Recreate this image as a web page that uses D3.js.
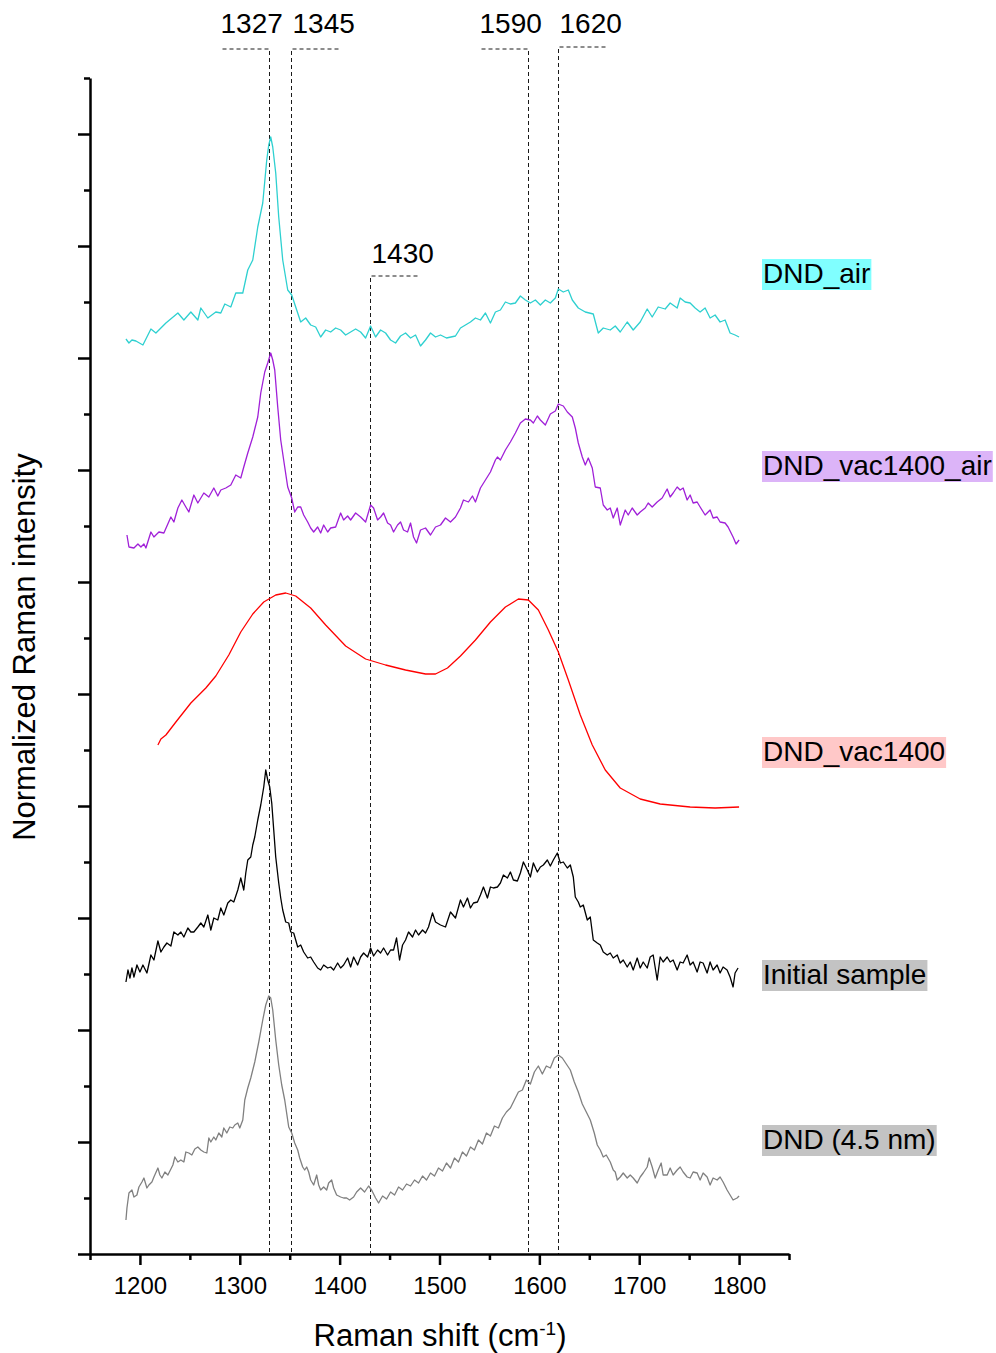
<!DOCTYPE html>
<html>
<head>
<meta charset="utf-8">
<script src="https://cdn.jsdelivr.net/npm/d3@7"></script>
<style>
	body { margin: 0; background: #fff; }
	svg { display: block; font-family: 'Liberation Sans', Arial, sans-serif; }
	.axis path, .axis line { stroke: #000; stroke-width: 2.5px; }
	.axis text { font-size: 24px; fill: #000; font-family: 'Liberation Sans', Arial, sans-serif; }
	.spectrum { fill: none; stroke-width: 1.3px; stroke-linejoin: round; }
	.peak { fill: none; stroke: #1a1a1a; stroke-width: 1px; stroke-dasharray: 4,3; }
</style>
</head>
<body>
<div class="chart"></div>
<script>
// tick values and peak markers
const xTicks = [1200, 1300, 1400, 1500, 1600, 1700, 1800]
const xMinorTicks = [1150, 1250, 1350, 1450, 1550, 1650, 1750, 1850]
const peakPos = [1329.5, 1351.5, 1430.5, 1589, 1619]
const peakLabels = ['1327', '1345', '1430', '1590', '1620']

const seriesNames = ['DND_air', 'DND_vac1400_air', 'DND_vac1400', 'Initial sample', 'DND (4.5 nm)']
const seriesColors = ['#2ed0d0', '#a020d8', '#ff0000', '#000000', '#808080']
const labelFills = ['#80ffff', '#dcb4f8', '#ffc8c8', '#c3c3c3', '#c3c3c3']

// spectra, [Raman shift, intensity (a.u., offset included)]
const dndAir = [[1186,915],[1189,911],[1192,914],[1196,913],[1203,909],[1211,925],[1216,921],[1226,931],[1238,941],[1244,934],[1251,942],[1258,934],[1261,946],[1268,936],[1276,942],[1281,941],[1285,950],[1291,947],[1296,961],[1303,961],[1308,984],[1313,994],[1318,1027],[1323,1051],[1327,1094],[1329,1109],[1331,1117],[1333,1107],[1336,1081],[1339,1037],[1343,994],[1348,964],[1352,959],[1357,944],[1361,932],[1366,936],[1371,929],[1376,927],[1381,917],[1386,924],[1391,922],[1396,926],[1401,924],[1406,919],[1411,922],[1416,925],[1421,922],[1426,916],[1431,928],[1436,917],[1441,924],[1446,921],[1451,914],[1456,911],[1461,918],[1466,921],[1471,916],[1476,919],[1481,908],[1486,914],[1491,921],[1496,917],[1501,919],[1507,916],[1516,918],[1521,926],[1531,932],[1536,936],[1541,934],[1546,941],[1551,931],[1556,942],[1561,944],[1566,952],[1571,950],[1576,951],[1581,958],[1586,954],[1591,951],[1596,954],[1601,949],[1606,954],[1611,951],[1616,956],[1619,965],[1624,962],[1629,964],[1633,954],[1639,946],[1646,942],[1654,940],[1659,921],[1664,926],[1671,924],[1676,928],[1681,922],[1688,932],[1694,924],[1701,932],[1708,945],[1713,937],[1719,947],[1726,945],[1731,951],[1738,946],[1741,956],[1746,952],[1751,951],[1756,946],[1761,942],[1766,946],[1771,936],[1776,939],[1781,932],[1786,934],[1791,921],[1796,919],[1800,917]]

const dndVacAir = [[1187,719],[1189,707],[1194,706],[1198,710],[1201,707],[1204,710],[1206,706],[1211,722],[1214,717],[1219,722],[1224,721],[1231,737],[1234,732],[1238,746],[1242,754],[1246,747],[1249,742],[1254,759],[1258,751],[1264,761],[1269,757],[1274,766],[1278,758],[1281,764],[1286,766],[1291,769],[1296,779],[1301,776],[1304,787],[1308,801],[1313,817],[1318,837],[1321,861],[1325,882],[1328,891],[1331,901],[1333,894],[1335,884],[1338,847],[1341,814],[1345,787],[1348,767],[1352,756],[1355,742],[1358,747],[1361,747],[1364,739],[1368,732],[1371,726],[1374,722],[1378,727],[1381,721],[1384,729],[1388,722],[1391,726],[1396,727],[1401,741],[1404,734],[1408,738],[1411,734],[1416,741],[1421,737],[1426,732],[1431,749],[1434,746],[1438,734],[1441,737],[1444,741],[1448,731],[1451,729],[1454,722],[1458,729],[1461,732],[1464,724],[1468,722],[1471,731],[1474,717],[1477,711],[1481,724],[1486,726],[1491,719],[1496,727],[1501,729],[1506,736],[1511,732],[1516,737],[1521,746],[1524,754],[1529,752],[1533,758],[1536,752],[1541,766],[1546,774],[1551,782],[1556,794],[1558,797],[1561,794],[1566,804],[1571,812],[1576,821],[1581,831],[1586,835],[1591,834],[1594,831],[1598,838],[1601,834],[1606,829],[1611,840],[1616,843],[1619,850],[1624,848],[1628,842],[1633,837],[1636,826],[1639,811],[1643,797],[1646,789],[1649,796],[1653,786],[1656,767],[1661,766],[1664,749],[1668,744],[1671,746],[1674,736],[1678,746],[1681,729],[1686,744],[1689,739],[1693,746],[1698,739],[1701,742],[1706,746],[1709,751],[1713,747],[1718,752],[1723,756],[1728,765],[1731,757],[1734,761],[1738,767],[1741,764],[1744,766],[1748,754],[1751,759],[1754,751],[1758,752],[1761,747],[1766,739],[1771,744],[1774,736],[1778,737],[1781,732],[1786,731],[1789,727],[1794,717],[1797,710],[1800,714]]

const dndVac = [[1218,509],[1221,515],[1226,519],[1236,532],[1251,551],[1266,566],[1276,578],[1289,599],[1301,622],[1313,640],[1324,652],[1336,659],[1346,661],[1356,658],[1371,646],[1386,629],[1406,608],[1426,595],[1446,589],[1466,584],[1486,580],[1496,580],[1508,586],[1521,598],[1536,614],[1551,632],[1566,647],[1579,655],[1589,654],[1599,644],[1609,624],[1619,602],[1629,574],[1641,539],[1653,509],[1666,484],[1681,466],[1701,455],[1721,450],[1751,447],[1776,446],[1800,447]]

const initialSample = [[1186,272],[1188,284],[1190,276],[1192,286],[1194,277],[1197,289],[1200,282],[1203,289],[1207,281],[1211,299],[1214,294],[1218,313],[1221,302],[1224,307],[1227,311],[1231,308],[1234,322],[1238,319],[1241,322],[1244,317],[1248,326],[1251,322],[1254,322],[1258,327],[1261,331],[1264,327],[1268,339],[1271,324],[1274,336],[1278,334],[1281,346],[1284,339],[1288,351],[1291,354],[1294,352],[1298,364],[1301,376],[1304,364],[1306,381],[1308,394],[1311,397],[1313,409],[1315,417],[1318,434],[1321,449],[1324,467],[1326,484],[1328,474],[1330,467],[1332,451],[1334,424],[1336,397],[1339,371],[1341,356],[1343,344],[1346,332],[1349,331],[1351,322],[1354,321],[1358,307],[1361,309],[1364,302],[1368,296],[1371,297],[1374,292],[1378,286],[1381,284],[1384,289],[1388,286],[1391,287],[1394,284],[1398,291],[1401,286],[1404,289],[1408,296],[1411,287],[1414,297],[1418,289],[1421,297],[1424,301],[1428,297],[1431,306],[1434,298],[1438,304],[1441,301],[1444,306],[1448,299],[1451,304],[1454,304],[1457,316],[1460,294],[1463,309],[1466,314],[1469,322],[1473,317],[1476,324],[1479,319],[1483,324],[1486,321],[1489,327],[1493,341],[1496,332],[1501,329],[1506,327],[1511,342],[1516,336],[1521,354],[1524,347],[1528,356],[1531,346],[1534,351],[1538,352],[1541,359],[1544,367],[1548,356],[1551,367],[1554,366],[1558,367],[1561,371],[1564,379],[1568,376],[1571,382],[1574,374],[1578,373],[1581,381],[1584,392],[1588,384],[1591,377],[1594,391],[1598,382],[1601,387],[1604,389],[1608,394],[1611,388],[1614,394],[1618,401],[1621,391],[1624,392],[1628,386],[1631,389],[1634,377],[1636,357],[1639,352],[1641,347],[1644,349],[1648,334],[1651,337],[1654,314],[1658,311],[1661,309],[1664,302],[1668,299],[1671,301],[1674,296],[1678,299],[1681,291],[1684,294],[1688,287],[1691,292],[1694,284],[1698,296],[1701,286],[1704,292],[1708,286],[1711,297],[1714,299],[1718,274],[1721,297],[1724,292],[1728,297],[1731,292],[1734,294],[1738,284],[1741,292],[1744,291],[1748,299],[1751,289],[1754,292],[1758,282],[1761,292],[1764,291],[1768,281],[1771,292],[1774,284],[1778,289],[1781,281],[1784,287],[1788,284],[1791,277],[1794,267],[1796,281],[1799,286]]

const dnd45 = [[1186,34],[1187,46],[1189,61],[1192,64],[1194,57],[1197,59],[1199,67],[1202,72],[1204,76],[1207,66],[1209,69],[1212,72],[1214,77],[1218,86],[1220,79],[1222,76],[1225,82],[1228,79],[1230,83],[1233,89],[1235,97],[1238,92],[1241,94],[1244,92],[1246,102],[1249,101],[1252,99],[1255,105],[1258,107],[1261,104],[1264,102],[1267,101],[1269,116],[1271,112],[1274,117],[1276,114],[1279,121],[1282,117],[1284,126],[1287,121],[1290,127],[1293,126],[1295,129],[1298,131],[1300,126],[1303,134],[1305,154],[1308,166],[1311,176],[1315,192],[1319,212],[1323,234],[1326,249],[1329,258],[1331,256],[1333,244],[1336,214],[1339,189],[1342,169],[1345,154],[1349,127],[1352,121],[1355,111],[1358,104],[1360,96],[1363,87],[1365,84],[1367,87],[1369,82],[1371,74],[1374,69],[1377,79],[1379,69],[1381,64],[1384,67],[1387,64],[1389,71],[1392,74],[1394,66],[1397,59],[1401,57],[1404,56],[1407,56],[1410,54],[1414,57],[1417,62],[1421,66],[1425,62],[1429,68],[1432,64],[1436,56],[1439,51],[1443,58],[1447,55],[1451,62],[1455,59],[1459,67],[1463,64],[1467,70],[1471,68],[1475,74],[1479,71],[1483,78],[1487,74],[1491,81],[1495,78],[1499,86],[1503,83],[1507,91],[1511,86],[1515,96],[1519,92],[1523,102],[1527,98],[1531,107],[1535,104],[1539,114],[1543,110],[1547,121],[1551,118],[1555,128],[1559,126],[1563,136],[1567,142],[1571,146],[1575,154],[1579,162],[1583,164],[1587,174],[1591,170],[1595,182],[1599,188],[1603,180],[1607,188],[1611,186],[1615,196],[1619,199],[1623,196],[1627,190],[1631,184],[1635,172],[1639,162],[1643,150],[1647,142],[1651,134],[1655,121],[1658,109],[1661,104],[1664,97],[1667,99],[1671,92],[1674,84],[1676,82],[1678,74],[1681,77],[1684,81],[1688,76],[1691,79],[1694,76],[1698,71],[1701,77],[1704,81],[1708,87],[1710,96],[1713,87],[1716,76],[1719,84],[1722,91],[1724,79],[1728,79],[1731,86],[1734,79],[1738,84],[1741,87],[1744,82],[1748,77],[1751,76],[1754,82],[1758,81],[1761,74],[1764,81],[1768,77],[1771,69],[1774,76],[1778,74],[1781,77],[1784,72],[1788,64],[1791,59],[1794,54],[1798,56],[1800,58]]

const seriesData = [dndAir, dndVacAir, dndVac, initialSample, dnd45]

const width = 996
const height = 1353
const plotLeft = 90
const plotRight = 789
const plotTop = 78
const plotBottom = 1254

const scaleX = d3.scaleLinear().domain([1150, 1850]).range([plotLeft, plotRight])
const scaleY = d3.scaleLinear().domain([0, 1176]).range([plotBottom, plotTop])

// layout of the peak markers: hook direction, top of each dashed line, label baseline
const hookSide = [-1, 1, 1, -1, 1]
const hookTop = [49, 49, 276, 49, 47]
const hookLabelY = [33, 33, 263, 33, 33]
const hookLen = 47

// legend label baselines, next to the end of each spectrum
const labelBase = [283, 475, 761, 984, 1149]

const svg = d3.select('.chart')
	.append('svg')
	.attr('width', width)
	.attr('height', height)

function drawAxes() {
	const yMajor = d3.range(0, 1177, 112)
	const yMinor = d3.range(56, 1177, 112)

	svg.append('g')
		.attr('class', 'axis axis--x')
		.attr('transform', `translate(0, ${plotBottom})`)
		.call(d3.axisBottom(scaleX).tickValues(xTicks).tickFormat(d3.format('d')).tickSize(11).tickSizeOuter(0).tickPadding(12))

	svg.append('g')
		.attr('class', 'axis axis--x-minor')
		.attr('transform', `translate(0, ${plotBottom})`)
		.call(d3.axisBottom(scaleX).tickValues(xMinorTicks).tickSize(6).tickFormat(''))
		.call(g => g.select('.domain').remove())

	svg.append('g')
		.attr('class', 'axis axis--y')
		.attr('transform', `translate(${plotLeft}, 0)`)
		.call(d3.axisLeft(scaleY).tickValues(yMajor).tickSize(12).tickSizeOuter(0).tickFormat(''))

	svg.append('g')
		.attr('class', 'axis axis--y-minor')
		.attr('transform', `translate(${plotLeft}, 0)`)
		.call(d3.axisLeft(scaleY).tickValues(yMinor).tickSize(6).tickFormat(''))
		.call(g => g.select('.domain').remove())

	// axis titles
	const xTitle = svg.append('text')
		.attr('x', 440)
		.attr('y', 1346)
		.attr('text-anchor', 'middle')
		.attr('font-size', 31)
	xTitle.append('tspan').text('Raman shift (cm')
	xTitle.append('tspan').attr('font-size', 19).attr('dy', -11).text('-1')
	xTitle.append('tspan').attr('dy', 11).text(')')

	svg.append('text')
		.attr('transform', 'translate(35, 647) rotate(-90)')
		.attr('text-anchor', 'middle')
		.attr('font-size', 31)
		.text('Normalized Raman intensity')
}

function drawPeaks() {
	const g = svg.append('g').attr('class', 'peaks')

	peakPos.forEach((p, i) => {
		const x = Math.round(scaleX(p)) + 0.5
		const top = hookTop[i]
		g.append('path')
			.attr('class', 'peak')
			.attr('d', `M${x + hookSide[i] * hookLen},${top}H${x}V${plotBottom}`)

		g.append('text')
			.attr('x', hookSide[i] < 0 ? x - hookLen - 2 : x + 1)
			.attr('y', hookLabelY[i])
			.attr('font-size', 28)
			.text(peakLabels[i])
	})
}

function drawSeries() {
	const line = d3.line()
		.x(d => scaleX(d[0]))
		.y(d => scaleY(d[1]))

	svg.append('g')
		.attr('class', 'spectra')
		.selectAll('path')
		.data(seriesData)
		.join('path')
		.attr('class', 'spectrum')
		.attr('stroke', (d, i) => seriesColors[i])
		.attr('d', line)
}

function drawLabels() {
	const g = svg.append('g').attr('class', 'labels')

	seriesNames.forEach((name, i) => {
		const lg = g.append('g')
		const text = lg.append('text')
			.attr('x', 763)
			.attr('y', labelBase[i])
			.attr('font-size', 28)
			.text(name)
		const box = text.node().getBBox()
		lg.insert('rect', 'text')
			.attr('x', box.x - 1)
			.attr('y', box.y + 1)
			.attr('width', box.width + 2)
			.attr('height', box.height)
			.attr('fill', labelFills[i])
	})
}

function init() {
	drawPeaks()
	drawSeries()
	drawAxes()
	drawLabels()
}

init()
</script>
</body>
</html>
